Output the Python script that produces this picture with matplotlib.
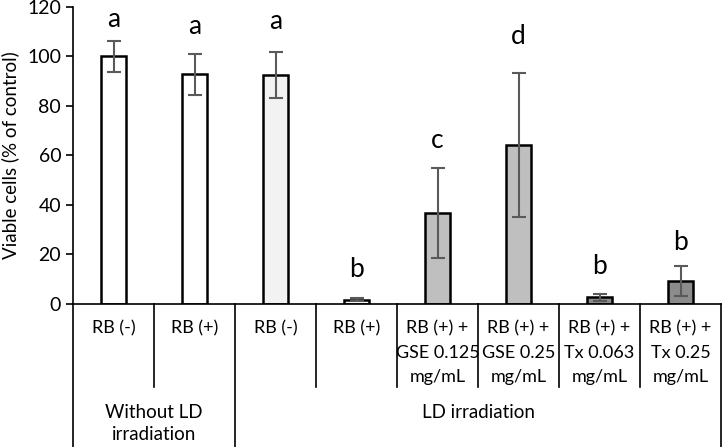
import numpy as np
import matplotlib.pyplot as plt

plt.rcParams['font.family'] = ['Lato', 'DejaVu Sans']

labels = ["RB (-)", "RB (+)", "RB (-)", "RB (+)",
          "RB (+) +\nGSE 0.125\nmg/mL", "RB (+) +\nGSE 0.25\nmg/mL",
          "RB (+) +\nTx 0.063\nmg/mL", "RB (+) +\nTx 0.25\nmg/mL"]
values = [100, 92.7, 92.5, 1.8, 36.7, 64.3, 2.7, 9.3]
errors = [6.3, 8.4, 9.3, 0.5, 18.0, 29.0, 1.3, 6.0]
letters = ["a", "a", "a", "b", "c", "d", "b", "b"]
letter_y = [115, 112, 114, 14, 66, 108, 15, 25]
colors = ["white", "white", "#f2f2f2", "white", "#bfbfbf", "#bfbfbf", "#8c8c8c", "#8c8c8c"]
groups = ["Without LD\nirradiation", "LD irradiation"]
group_edges = [(-0.5, 1.5), (1.5, 7.5)]

fig = plt.figure(figsize=(7.25, 4.47), dpi=100)
ax = fig.add_axes([73/725, 1-304/447, (721-73)/725, (304-6.7)/447])

x = np.arange(len(values))
ax.bar(x, values, width=0.32, color=colors, edgecolor="black", linewidth=1.8, zorder=2)
ax.errorbar(x, values, yerr=errors, fmt="none", ecolor="#5a5a5a", elinewidth=1.5,
            capsize=5, capthick=1.5, zorder=3)
for xi, lt, ly in zip(x, letters, letter_y):
    ax.text(xi, ly, lt, ha="center", va="center", fontsize=19)

ax.set_xlim(-0.5, 7.5)
ax.set_ylim(0, 120)
ax.set_yticks(range(0, 121, 20))
ax.tick_params(axis="y", labelsize=14, length=5, width=1.2, direction="out")
ax.set_xticks([])
ax.set_ylabel("Viable cells (% of control)", fontsize=13.5, labelpad=6)
for s in ["top", "right"]:
    ax.spines[s].set_visible(False)
ax.spines["left"].set_linewidth(1.2)
ax.spines["bottom"].set_linewidth(1.2)

# table below the axis
axh = 304 - 6.7
tr = ax.get_xaxis_transform()
for b in np.arange(0.5, 7.5, 1.0):
    if b == 1.5:
        continue
    ax.plot([b, b], [0, -83 / axh], transform=tr, color="black", lw=1.2, clip_on=False)
for b in [-0.5, 1.5, 7.5]:
    ax.plot([b, b], [0, -145 / axh], transform=tr, color="black", lw=1.2, clip_on=False)
for xi, lab in zip(x, labels):
    for i, line in enumerate(lab.split("\n")):
        ax.text(xi, -(24 + 24.5 * i) / axh, line, transform=tr, ha="center",
                va="center", fontsize=13)
for (a, b), g in zip(group_edges, groups):
    for i, line in enumerate(g.split("\n")):
        ax.text((a + b) / 2, -(108 + 22 * i) / axh, line, transform=tr, ha="center",
                va="center", fontsize=13.5)

fig.savefig("out.png", dpi=100)
